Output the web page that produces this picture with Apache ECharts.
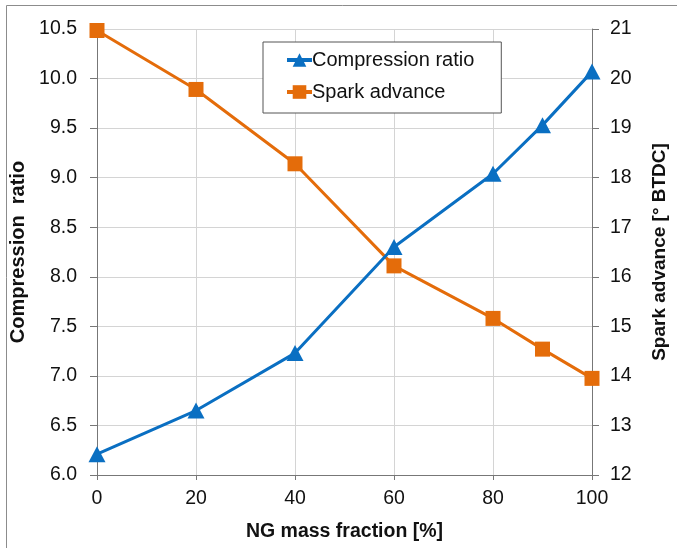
<!DOCTYPE html>
<html>
<head>
<meta charset="utf-8">
<script src="https://cdn.jsdelivr.net/npm/echarts@6/dist/echarts.min.js"></script>
<style>
  html, body { margin: 0; padding: 0; background: #fff; }
  #chart { width: 677px; height: 548px; }
</style>
</head>
<body>
<div id="chart"></div>
<script>
// NG mass fraction [%]
var ngFraction = [0, 20, 40, 60, 80, 90, 100]
// compression ratio (left axis)
var compressionRatio = [6.21, 6.65, 7.23, 8.30, 9.04, 9.53, 10.07]
// spark advance [° BTDC] (right axis)
var sparkAdvance = [20.97, 19.78, 18.28, 16.22, 15.16, 14.54, 13.95]

var blue = '#0a6fc2'
var orange = '#e46c0a'

function pairs(xs, ys) {
  var out = []
  for (let i = 0; i < xs.length; i++) {
    out.push([xs[i], ys[i]])
  }
  return out
}

var chart = echarts.init(document.getElementById('chart'))
var fontFamily = '"Liberation Sans", Arial, sans-serif'
var option = {
  animation: false,
  textStyle: { fontFamily: fontFamily },
  graphic: [{
    type: 'rect',
    shape: { x: 6.5, y: 5.5, width: 700, height: 600 },
    style: { fill: 'none', stroke: '#8c8c8c', lineWidth: 1 },
    silent: true
  }],
  grid: {
    left: 97,
    right: 83,
    top: 29,
    bottom: 73,
    containLabel: false
  },
  legend: {
    left: 263,
    top: 42,
    orient: 'vertical',
    itemWidth: 25,
    itemHeight: 17,
    itemGap: 12,
    padding: [8, 27, 11, 22],
    borderColor: '#555',
    borderWidth: 1,
    borderRadius: 0,
    backgroundColor: '#fff',
    lineStyle: { width: 4 },
    textStyle: { color: '#111', fontSize: 20, fontFamily: fontFamily, padding: [0, 0, 0, -5] },
    data: ['Compression ratio', 'Spark advance']
  },
  xAxis: {
    type: 'value',
    min: 0,
    max: 100,
    interval: 20,
    name: 'NG mass fraction [%]',
    nameLocation: 'middle',
    nameGap: 47,
    nameTextStyle: { color: '#111', fontSize: 19.5, fontWeight: 'bold', fontFamily: fontFamily },
    axisLine: { show: true, lineStyle: { color: '#777', width: 1 } },
    axisTick: { show: true, length: 5, lineStyle: { color: '#777' } },
    axisLabel: { color: '#111', fontSize: 19.5, margin: 14 },
    splitLine: { show: true, lineStyle: { color: '#d4d4d4', width: 1 } }
  },
  yAxis: [
    {
      type: 'value',
      min: 6,
      max: 10.5,
      interval: 0.5,
      position: 'left',
      name: 'Compression  ratio',
      nameLocation: 'middle',
      nameGap: 64,
      nameTextStyle: { color: '#111', fontSize: 20, fontWeight: 'bold', fontFamily: fontFamily },
      axisLine: { show: true, lineStyle: { color: '#777', width: 1 } },
      axisTick: { show: true, length: 7, lineStyle: { color: '#777' } },
      axisLabel: {
        color: '#111',
        fontSize: 19.5,
        margin: 20,
        formatter: function (v) { return v.toFixed(1) }
      },
      splitLine: { show: true, lineStyle: { color: '#d4d4d4', width: 1 } }
    },
    {
      type: 'value',
      min: 12,
      max: 21,
      interval: 1,
      position: 'right',
      name: 'Spark advance [° BTDC]',
      nameLocation: 'middle',
      nameGap: 58,
      nameRotate: 90,
      nameTextStyle: { color: '#111', fontSize: 19, fontWeight: 'bold', fontFamily: fontFamily },
      axisLine: { show: true, lineStyle: { color: '#777', width: 1 } },
      axisTick: { show: true, length: 7, lineStyle: { color: '#777' } },
      axisLabel: { color: '#111', fontSize: 19.5, margin: 18 },
      splitLine: { show: false }
    }
  ],
  series: [
    {
      name: 'Compression ratio',
      type: 'line',
      yAxisIndex: 0,
      symbol: 'triangle',
      symbolSize: [17, 16],
      lineStyle: { color: blue, width: 3 },
      itemStyle: { color: blue },
      data: pairs(ngFraction, compressionRatio),
      z: 3
    },
    {
      name: 'Spark advance',
      type: 'line',
      yAxisIndex: 1,
      symbol: 'rect',
      symbolSize: 15,
      lineStyle: { color: orange, width: 3 },
      itemStyle: { color: orange },
      data: pairs(ngFraction, sparkAdvance),
      z: 2
    }
  ]
}
chart.setOption(option)
</script>
</body>
</html>
